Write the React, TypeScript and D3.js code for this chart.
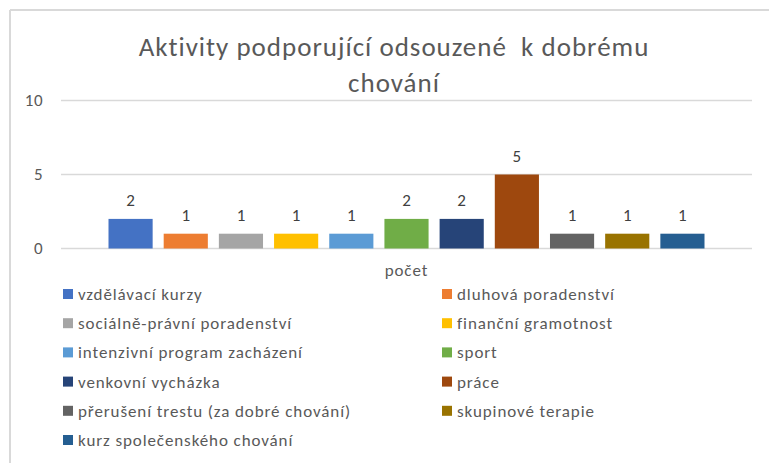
import React from "react";
import * as d3 from "d3";

const categories = ["počet"];
const seriesNames = [
  "vzdělávací kurzy",
  "dluhová poradenství",
  "sociálně-právní poradenství",
  "finanční gramotnost",
  "intenzivní program zacházení",
  "sport",
  "venkovní vycházka",
  "práce",
  "přerušení trestu (za dobré chování)",
  "skupinové terapie",
  "kurz společenského chování",
];
const seriesValues = [2, 1, 1, 1, 1, 2, 2, 5, 1, 1, 1];
const seriesColors = [
  "#4472C4", "#ED7D31", "#A5A5A5", "#FFC000", "#5B9BD5", "#70AD47",
  "#264478", "#9E480E", "#636363", "#997300", "#255E91",
];
const yTicks = [0, 5, 10];
const titleLines = ["Aktivity podporující odsouzené  k dobrému", "chování"];

const W = 769;
const H = 463;
const FONT = "Carlito, Calibri, Lato, 'Open Sans', sans-serif";
const TEXT = "#595959";

export default function App() {
  const plotLeft = 61;
  const plotRight = 752;
  const y = d3.scaleLinear().domain([0, 10]).range([248.5, 100.5]);
  const x0 = d3.scaleBand().domain(categories).range([plotLeft, plotRight]).paddingInner(0).paddingOuter(0.0797);
  const x1 = d3.scaleBand().domain(seriesNames).range([0, x0.bandwidth()]).paddingInner(0.2).paddingOuter(0);

  const legendRowY = (i: number) => 294 + Math.floor(i / 2) * 29.2;
  const legendColX = (i: number) => (i % 2 === 0 ? 63 : 442);

  return (
    <svg width={W} height={H} style={{ position: "absolute", left: 0, top: 0, background: "#fff" }} fontFamily={FONT}>
      <rect x={0} y={0} width={W} height={H} fill="#fff" />
      <line x1={10} y1={10} x2={W} y2={10} stroke="#d9d9d9" strokeWidth={2} />
      <line x1={10} y1={10} x2={10} y2={H} stroke="#d9d9d9" strokeWidth={2} />
      {titleLines.map((t, i) => (
        <text key={i} x={394} y={56 + i * 36} textAnchor="middle" fontSize={27} letterSpacing={1} fill={TEXT} style={{ whiteSpace: "pre" }}>
          {t}
        </text>
      ))}
      {yTicks.map((t) => (
        <g key={t}>
          <line x1={plotLeft} x2={plotRight} y1={y(t)} y2={y(t)} stroke="#d9d9d9" strokeWidth={1.5} />
          <text x={43} y={y(t)} dy="0.35em" textAnchor="end" fontSize={17} letterSpacing={0.5} fill={TEXT}>
            {t}
          </text>
        </g>
      ))}
      {categories.map((c) => (
        <g key={c} transform={`translate(${x0(c)},0)`}>
          {seriesNames.map((s, i) => (
            <g key={s}>
              <rect x={x1(s)} y={y(seriesValues[i])} width={x1.bandwidth()} height={y(0) - y(seriesValues[i])} fill={seriesColors[i]} />
              <text x={(x1(s) as number) + x1.bandwidth() / 2} y={y(seriesValues[i]) - 13} textAnchor="middle" fontSize={17} fill="#404040">
                {seriesValues[i]}
              </text>
            </g>
          ))}
          <text x={x0.bandwidth() / 2} y={276} textAnchor="middle" fontSize={17} letterSpacing={0.9} fill={TEXT}>
            {c}
          </text>
        </g>
      ))}
      {seriesNames.map((s, i) => (
        <g key={s} transform={`translate(${legendColX(i)},${legendRowY(i)})`}>
          <rect x={0} y={-5} width={10} height={10} fill={seriesColors[i]} />
          <text x={15} y={0} dy="0.35em" fontSize={17} letterSpacing={0.9} fill={TEXT}>
            {s}
          </text>
        </g>
      ))}
    </svg>
  );
}
